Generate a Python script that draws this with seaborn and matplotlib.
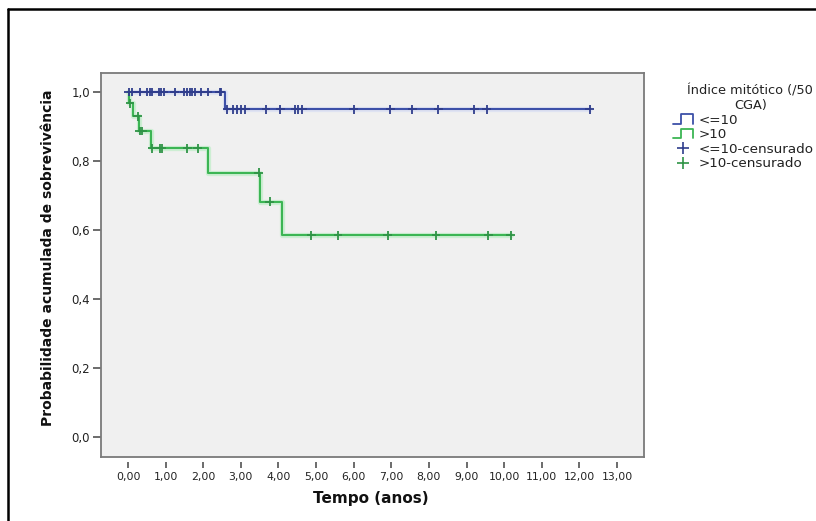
import numpy as np
import pandas as pd
import matplotlib
matplotlib.use("Agg")
import matplotlib.pyplot as plt
import matplotlib.patheffects as pe
import seaborn as sns
from matplotlib.lines import Line2D
from matplotlib.legend_handler import HandlerBase

# ---------------- data ----------------
group_names = ["<=10", ">10"]

low_step_time = [0.0, 2.59, 12.28]
low_step_surv = [1.0, 0.95, 0.95]

high_step_time = [0.0, 0.02, 0.13, 0.29, 0.62, 2.12, 3.50, 4.10, 10.18]
high_step_surv = [1.0, 0.967, 0.930, 0.887, 0.837, 0.766, 0.682, 0.585, 0.585]

low_censor_time = [0.02, 0.11, 0.31, 0.51, 0.58, 0.64, 0.82, 0.88, 0.95, 1.24,
                   1.50, 1.57, 1.64, 1.71, 1.78, 1.93, 2.12, 2.44, 2.47,
                   2.63, 2.79, 2.90, 3.01, 3.12, 3.67, 4.05, 4.45, 4.51, 4.63,
                   6.00, 6.97, 7.56, 8.25, 9.21, 9.54, 12.28]
high_censor_time = [0.05, 0.26, 0.31, 0.38, 0.64, 0.85, 0.89, 1.57, 1.85,
                    3.47, 3.77, 4.87, 5.58, 6.90, 8.19, 9.58, 10.18]

x_ticks = list(range(0, 14))
x_tick_labels = ["0,00", "1,00", "2,00", "3,00", "4,00", "5,00", "6,00",
                 "7,00", "8,00", "9,00", "10,00", "11,00", "12,00", "13,00"]
y_ticks = [0.0, 0.2, 0.4, 0.6, 0.8, 1.0]
y_tick_labels = ["0,0", "0,2", "0,4", "0,6", "0,8", "1,0"]

legend_labels = ["<=10", ">10", "<=10-censurado", ">10-censurado"]
legend_title = "Índice mitótico (/50\nCGA)"
x_label = "Tempo (anos)"
y_label = "Probabilidade acumulada de sobrevivência"

# ---------------- tables ----------------
steps = pd.concat([
    pd.DataFrame({"time": low_step_time, "surv": low_step_surv, "group": group_names[0]}),
    pd.DataFrame({"time": high_step_time, "surv": high_step_surv, "group": group_names[1]}),
], ignore_index=True)


def surv_at(times, st, ss):
    st = np.asarray(st)
    ss = np.asarray(ss)
    idx = np.searchsorted(st, np.asarray(times), side="right") - 1
    return ss[idx]


cens = pd.concat([
    pd.DataFrame({"time": low_censor_time,
                  "surv": surv_at(low_censor_time, low_step_time, low_step_surv),
                  "group": group_names[0]}),
    pd.DataFrame({"time": high_censor_time,
                  "surv": surv_at(high_censor_time, high_step_time, high_step_surv),
                  "group": group_names[1]}),
], ignore_index=True)

# ---------------- style ----------------
sns.set_style("white")
plt.rcParams["font.family"] = ["DejaVu Sans"]

BLUE = "#3d50a8"
GREEN = "#3cb554"
BLUE_C = "#2f3d8c"
GREEN_C = "#2f9446"
palette = {group_names[0]: BLUE, group_names[1]: GREEN}
palette_c = {group_names[0]: BLUE_C, group_names[1]: GREEN_C}

W, H = 816, 521
fig = plt.figure(figsize=(W / 100, H / 100), dpi=100)
fig.patch.set_facecolor("white")

L, R, T, B = 101, 644, 73, 457
ax = fig.add_axes([L / W, 1 - B / H, (R - L) / W, (B - T) / H])
ax.set_facecolor("#f0f0f0")

sns.lineplot(data=steps, x="time", y="surv", hue="group", palette=palette,
             drawstyle="steps-post", estimator=None, sort=False, legend=False,
             linewidth=1.5, ax=ax)
for ln, halo in zip(ax.get_lines(), ["#dfe3f2", "#cdeed3"]):
    ln.set_path_effects([pe.Stroke(linewidth=3.8, foreground=halo), pe.Normal()])

sns.scatterplot(data=cens, x="time", y="surv", hue="group", palette=palette_c,
                marker="+", s=40, linewidth=1.3, legend=False, ax=ax, zorder=5)

ax.set_xlim(-0.72, 13.72)
ax.set_ylim(-0.058, 1.055)

for s in ax.spines.values():
    s.set_visible(True)
    s.set_color("#7a7a7a")
    s.set_linewidth(1.3)

ax.set_yticks(y_ticks)
ax.set_yticklabels(y_tick_labels)
ax.tick_params(axis="y", left=True, length=6, width=1.1, color="#444444",
               pad=2, labelsize=8.5, labelcolor="#222222")
ax.tick_params(axis="x", bottom=False, labelbottom=False)
ax.set_xticks(x_ticks)

sec = ax.secondary_xaxis(location=-0.013)
sec.set_xticks(x_ticks)
sec.set_xticklabels(x_tick_labels)
sec.spines["bottom"].set_visible(False)
sec.tick_params(axis="x", length=4, width=1.1, color="#444444", pad=3,
                labelsize=7.8, labelcolor="#222222")

ax.set_xlabel("")
ax.set_ylabel("")
fig.text(371 / W, 1 - 498 / H, x_label, ha="center", va="center",
         fontsize=11, fontweight="bold", color="#111111")
fig.text(48 / W, 1 - 258 / H, y_label, ha="center", va="center", rotation=90,
         fontsize=10, fontweight="bold", color="#111111")


# ---------------- legend ----------------
class HandlerStep(HandlerBase):
    def create_artists(self, legend, orig_handle, xdescent, ydescent,
                       width, height, fontsize, trans):
        xs = np.array([0.0, 0.4, 0.4, 1.0, 1.0]) * width - xdescent
        ys = np.array([0.0, 0.0, 1.0, 1.0, 0.0]) * height - ydescent
        ln = Line2D(xs, ys, color=orig_handle.get_color(), lw=1.3, transform=trans)
        return [ln]


handles = [
    Line2D([], [], color=BLUE),
    Line2D([], [], color=GREEN),
    Line2D([], [], color=BLUE_C, marker="+", linestyle="None", markersize=9, mew=1.2),
    Line2D([], [], color=GREEN_C, marker="+", linestyle="None", markersize=9, mew=1.2),
]
leg = ax.legend(handles, legend_labels,
                handler_map={handles[0]: HandlerStep(), handles[1]: HandlerStep()},
                title=legend_title, loc="upper left",
                bbox_to_anchor=(673 / W, 1 - 84 / H), bbox_transform=fig.transFigure,
                frameon=False, fontsize=9.7, title_fontsize=9.3,
                handlelength=1.45, handleheight=0.7, handletextpad=0.42,
                labelspacing=0.12, borderpad=0, borderaxespad=0,
                alignment="right")
leg.get_title().set_multialignment("center")
leg.get_title().set_color("#222222")
for t in leg.get_texts():
    t.set_color("#222222")

# outer frame (left and top edges visible in the reference)
fig.add_artist(Line2D([8 / W, 8 / W], [0, 1 - 9 / H], transform=fig.transFigure,
                      color="black", lw=1.8))
fig.add_artist(Line2D([8 / W, 1], [1 - 9 / H, 1 - 9 / H], transform=fig.transFigure,
                      color="black", lw=1.8))

fig.savefig("out.png", dpi=100, facecolor="white")
